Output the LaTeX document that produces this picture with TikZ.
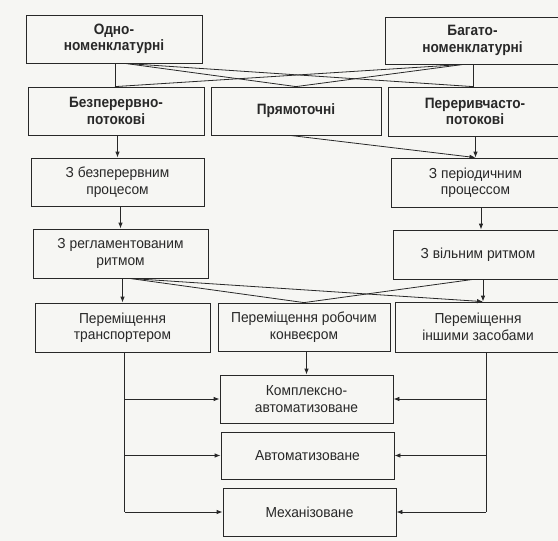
\documentclass[tikz,border=0pt]{standalone}
\usepackage{fontspec}
\setmainfont{Liberation Sans}
\newfontfamily\topfont{Liberation Sans}[FakeStretch=0.91]
\newfontfamily\narfont{Liberation Sans}[FakeStretch=0.95]
\usetikzlibrary{arrows.meta,calc}
\definecolor{paper}{RGB}{246,246,243}
\definecolor{ink}{RGB}{40,40,40}
\tikzset{
  box/.style={draw=ink, line width=0.8pt, rectangle, inner sep=0pt, align=center, text=ink},
  topbox/.style={box, font=\topfont\fontsize{15}{16.5}\selectfont\bfseries},
  lowbox/.style={box, font=\narfont\fontsize{14.5}{16.5}\selectfont},
  conn/.style={draw=ink, line width=0.8pt},
  arr/.style={conn, -{Latex[length=6pt,width=4.5pt]}},
}
\begin{document}
\begin{tikzpicture}[x=1pt,y=-1pt]
\fill[paper] (0,0) rectangle (558,541);
\useasboundingbox (0,0) rectangle (558,541);
\clip (0,0) rectangle (558,541);
% row 1
\node[topbox, minimum width=176, minimum height=48] (odno) at (114,39) {Одно-\\номенклатурні};
\node[topbox, minimum width=175, minimum height=47] (bagato) at (472.5,40.5) {Багато-\\номенклатурні};
% row 2
\node[topbox, minimum width=176, minimum height=48] (bezp) at (116,111) {Безперервно-\\потокові};
\node[topbox, minimum width=170, minimum height=48] (pryam) at (296,111) {Прямоточні};
\node[topbox, minimum width=174, minimum height=49] (pererv) at (475,111.5) {Переривчасто-\\потокові};
% row 3
\node[lowbox, minimum width=173, minimum height=48] (zbez) at (117.5,182) {З безперервним\\процесом};
\node[lowbox, minimum width=169, minimum height=49] (zper) at (475.5,182.5) {З періодичним\\процессом};
% row 4
\node[lowbox, minimum width=175, minimum height=49] (zreg) at (120.5,253.5) {З регламентованим\\ритмом};
\node[lowbox, minimum width=170, minimum height=49] (zvil) at (478,254.5) {З вільним ритмом};
% row 5
\node[lowbox, minimum width=175, minimum height=49] (trans) at (122.5,327.5) {Переміщення\\транспортером};
\node[lowbox, minimum width=172, minimum height=48] (robo) at (304,327) {Переміщення робочим\\конвеєром};
\node[lowbox, minimum width=166, minimum height=50] (inshi) at (478,327) {Переміщення\\іншими засобами};
% row 6-8
\node[lowbox, minimum width=173, minimum height=48] (kompl) at (306.5,399) {Комплексно-\\автоматизоване};
\node[lowbox, minimum width=173, minimum height=47] (avto) at (307.5,455.5) {Автоматизоване};
\node[lowbox, minimum width=173, minimum height=48] (mekh) at (309.5,512) {Механізоване};

% connectors row1 -> row2
\coordinate (oS) at ($(odno.south)+(11,0)$);
\coordinate (bS) at ($(bagato.south)+(-9,0)$);
\coordinate (bezT) at ($(odno.south |- bezp.north)+(1,0)$);
\coordinate (perT) at ($(pererv.north)+(-2,0)$);
\draw[conn] (odno.south -| bezT) -- (bezT);
\draw[conn] (bagato.south -| perT) -- (perT);
\draw[conn] (oS) -- (pryam.north);
\draw[conn] (oS) -- (perT);
\draw[conn] (bS) -- (pryam.north);
\draw[conn] (bS) -- (bezT);

% row2 -> row3
\draw[arr] (bezp.south -| zbez.north) -- (zbez.north);
\coordinate (zperT) at (zper.north);
\draw[arr] (pererv.south -| zperT) -- (zperT);
\draw[arr] ($(pryam.south)+(-6,0)$) -- (zperT);

% row3 -> row4
\draw[arr] (zbez.south -| zreg.north) -- (zreg.north);
\coordinate (zvilT) at ($(zvil.north)+(3,0)$);
\draw[arr] (zper.south -| zvilT) -- (zvilT);

% row4 -> row5
\coordinate (rS) at ($(zreg.south)+(9,0)$);
\coordinate (vS) at ($(zvil.south)+(-5,0)$);
\coordinate (inT) at ($(inshi.north)+(5,0)$);
\draw[arr] (zreg.south -| trans.north) -- (trans.north);
\draw[conn] (rS) -- (robo.north);
\draw[arr] (rS) -- (inT);
\draw[conn] (vS) -- (robo.north);
\draw[arr] (zvil.south -| inT) -- (inT);

% row5 -> bottom
\draw[arr] (robo.south -| kompl.north) -- (kompl.north);
\coordinate (tB) at ($(trans.south)+(2,0)$);
\coordinate (iB) at ($(inshi.south)+(8,0)$);
\draw[conn] (tB) -- (tB |- mekh.west);
\draw[arr] (tB |- kompl.west) -- (kompl.west);
\draw[arr] (tB |- avto.west) -- (avto.west);
\draw[arr] (tB |- mekh.west) -- (mekh.west);
\draw[conn] (iB) -- (iB |- mekh.east);
\draw[arr] (iB |- kompl.east) -- (kompl.east);
\draw[arr] (iB |- avto.east) -- (avto.east);
\draw[arr] (iB |- mekh.east) -- (mekh.east);
\end{tikzpicture}
\end{document}
